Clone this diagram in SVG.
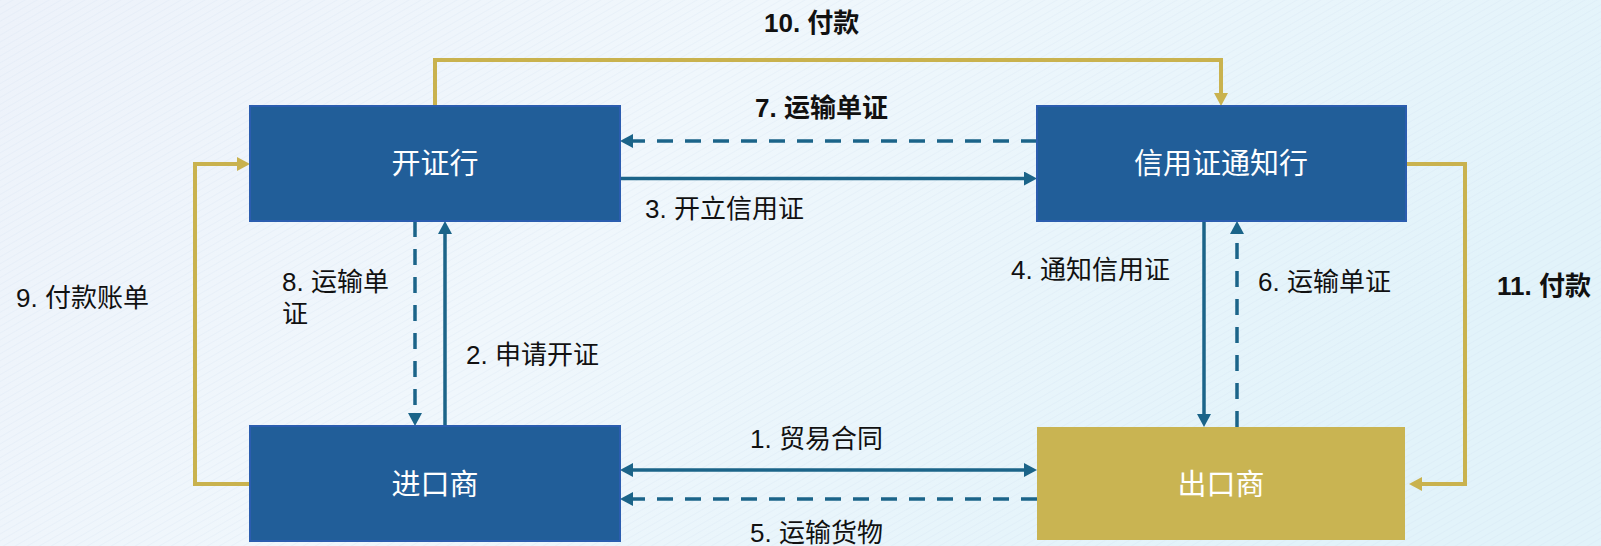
<svg xmlns="http://www.w3.org/2000/svg" width="1601" height="546" viewBox="0 0 1601 546">
  <defs>
    <linearGradient id="bg" x1="0" y1="0" x2="1" y2="0.3">
      <stop offset="0" stop-color="#EDF2FA"/>
      <stop offset="0.45" stop-color="#F0F7FC"/>
      <stop offset="1" stop-color="#E2F3FA"/>
    </linearGradient>
    <pattern id="hatch" width="6" height="6" patternUnits="userSpaceOnUse" patternTransform="rotate(-30)">
      <line x1="0" y1="0" x2="6" y2="0" stroke="#C8D8EC" stroke-width="1"/>
    </pattern>
    <marker id="ab" viewBox="0 0 13 14" markerWidth="13" markerHeight="14" refX="3" refY="7" orient="auto-start-reverse" markerUnits="userSpaceOnUse">
      <path d="M0,0 L13,7 L0,14 z" fill="#1B6489"/>
    </marker>
    <marker id="ag" viewBox="0 0 13 14" markerWidth="13" markerHeight="14" refX="3" refY="7" orient="auto-start-reverse" markerUnits="userSpaceOnUse">
      <path d="M0,0 L13,7 L0,14 z" fill="#C9B24E"/>
    </marker>
  </defs>
  <style>
    .box{fill:#215E99;stroke:#2B5DAF;stroke-width:2}
    .gbox{fill:#C9B452}
    .bt{font-family:"Liberation Sans","Noto Sans CJK SC",sans-serif;font-size:29px;fill:#FFFFFF;text-anchor:middle;dominant-baseline:central}
    .lb{font-family:"Liberation Sans","Noto Sans CJK SC",sans-serif;font-size:26px;fill:#111111;dominant-baseline:central}
    .bold{font-weight:bold}
    .bl{fill:none;stroke:#1B6489;stroke-width:3.5}
    .dash{stroke-dasharray:16 12}
    .gl{fill:none;stroke:#C9B24E;stroke-width:4}
  </style>
  <rect x="0" y="0" width="1601" height="546" fill="url(#bg)"/>
  <rect x="0" y="0" width="1601" height="546" fill="url(#hatch)" opacity="0.35"/>

  <g id="connectors">
    <path class="gl" d="M435,106 V60 H1221 V96" marker-end="url(#ag)"/>
    <path class="bl dash" d="M1037,141 H630" marker-end="url(#ab)"/>
    <path class="bl" d="M620,178.5 H1027" marker-end="url(#ab)"/>
    <path class="gl" d="M1406,164 H1465 V484 H1419" marker-end="url(#ag)"/>
    <path class="gl" d="M254,484 H195 V164 H240" marker-end="url(#ag)"/>
    <path class="bl dash" d="M415,221 V416" marker-end="url(#ab)"/>
    <path class="bl" d="M445,426 V231" marker-end="url(#ab)"/>
    <path class="bl" d="M1204,221 V417" marker-end="url(#ab)"/>
    <path class="bl dash" d="M1237,427 V231" marker-end="url(#ab)"/>
    <path class="bl" d="M630,470 H1027" marker-start="url(#ab)" marker-end="url(#ab)"/>
    <path class="bl dash" d="M1037,499 H630" marker-end="url(#ab)"/>
  </g>

  <g id="labels">
    <text class="lb bold" x="764" y="23">10. 付款</text>
    <text class="lb bold" x="755" y="108">7. 运输单证</text>
    <text class="lb" x="645" y="209">3. 开立信用证</text>
    <text class="lb" x="1011" y="270">4. 通知信用证</text>
    <text class="lb" x="1258" y="282">6. 运输单证</text>
    <text class="lb bold" x="1497" y="286">11. 付款</text>
    <text class="lb" x="16" y="298">9. 付款账单</text>
    <text class="lb" x="282" y="282">8. 运输单</text>
    <text class="lb" x="282" y="314">证</text>
    <text class="lb" x="466" y="355">2. 申请开证</text>
    <text class="lb" x="750" y="439">1. 贸易合同</text>
    <text class="lb" x="750" y="533">5. 运输货物</text>
  </g>

  <g id="node-issuing-bank">
    <rect class="box" x="250" y="106" width="370" height="115"/>
    <text class="bt" x="435" y="164">开证行</text>
  </g>
  <g id="node-advising-bank">
    <rect class="box" x="1037" y="106" width="369" height="115"/>
    <text class="bt" x="1221" y="164">信用证通知行</text>
  </g>
  <g id="node-importer">
    <rect class="box" x="250" y="426" width="370" height="115"/>
    <text class="bt" x="435" y="485">进口商</text>
  </g>
  <g id="node-exporter">
    <rect class="gbox" x="1037" y="427" width="368" height="113"/>
    <text class="bt" x="1221" y="485">出口商</text>
  </g>
</svg>
